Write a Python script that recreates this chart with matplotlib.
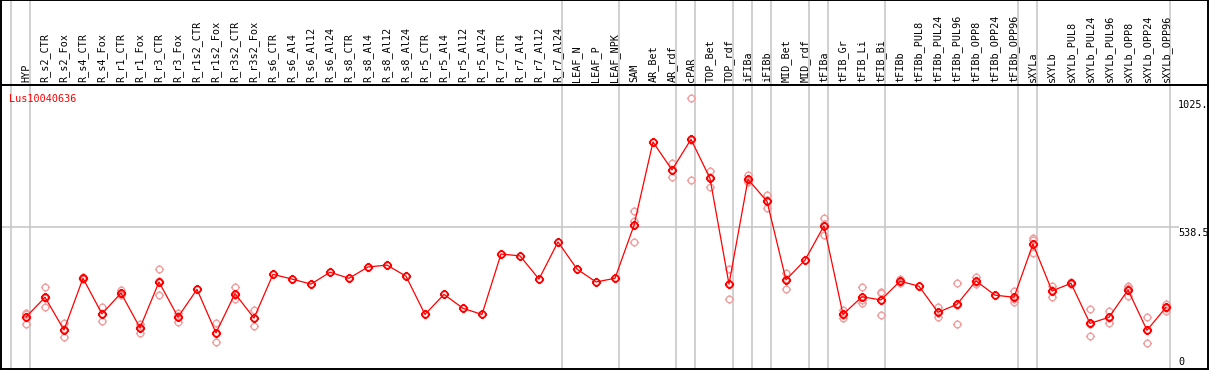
"""Expression profile of Lus10040636 across tissues/treatments."""

import matplotlib.pyplot as plt
import numpy as np
from matplotlib.path import Path

GENE = "Lus10040636"

SAMPLES = [
    "HYP", "R_s2_CTR", "R_s2_Fox", "R_s4_CTR", "R_s4_Fox", "R_r1_CTR",
    "R_r1_Fox", "R_r3_CTR", "R_r3_Fox", "R_r1s2_CTR", "R_r1s2_Fox",
    "R_r3s2_CTR", "R_r3s2_Fox", "R_s6_CTR", "R_s6_Al4", "R_s6_Al12",
    "R_s6_Al24", "R_s8_CTR", "R_s8_Al4", "R_s8_Al12", "R_s8_Al24",
    "R_r5_CTR", "R_r5_Al4", "R_r5_Al12", "R_r5_Al24", "R_r7_CTR",
    "R_r7_Al4", "R_r7_Al12", "R_r7_Al24", "LEAF_N", "LEAF_P", "LEAF_NPK",
    "SAM", "AR_Bet", "AR_rdf", "cPAR", "TOP_Bet", "TOP_rdf", "iFIBa",
    "iFIBb", "MID_Bet", "MID_rdf", "tFIBa", "tFIB_Gr", "tFIB_Li", "tFIB_Bi",
    "tFIBb", "tFIBb_PUL8", "tFIBb_PUL24", "tFIBb_PUL96", "tFIBb_OPP8",
    "tFIBb_OPP24", "tFIBb_OPP96", "sXYLa", "sXYLb", "sXYLb_PUL8",
    "sXYLb_PUL24", "sXYLb_PUL96", "sXYLb_OPP8", "sXYLb_OPP24", "sXYLb_OPP96",
]

MEANS = [
    197, 272, 148, 344, 209, 288, 156, 330, 197, 302, 137, 286, 193,
    359, 341, 322, 367, 344, 387, 394, 352, 207, 283, 230, 207,
    436, 429, 341, 482, 379, 330, 344, 545, 861, 755, 871, 723, 322,
    719, 636, 338, 413, 543, 207, 274, 262, 333, 314, 215, 245, 334,
    280, 272, 474, 296, 325, 173, 196, 300, 147, 234,
]

# individual replicates (empty where they sit under the mean marker)
REPLICATES = [
    [213, 170, 208], [310, 236, 270], [173, 120, 150], [348, 341, 343],
    [235, 183, 208], [300, 281, 284], [170, 138, 159], [378, 280, 332],
    [211, 179, 201], [], [173, 101, 135], [310, 267, 280], [223, 164, 193],
    [], [], [], [], [], [], [], [], [], [], [], [], [], [], [], [], [], [], [],
    [599, 562, 480], [], [780, 729, 755], [1026, 717, 870],
    [751, 691, 727], [378, 264, 324], [736, 710, 712], [660, 609, 639],
    [365, 304, 343], [], [573, 508, 549], [224, 205, 193], [310, 251, 261],
    [292, 204, 290], [340, 325, 335], [], [234, 198, 213], [325, 170, 242],
    [348, 322, 331], [], [296, 253, 267], [496, 439, 488], [315, 274, 298],
    [331, 322, 322], [226, 124, 170], [220, 173, 195], [316, 277, 306],
    [196, 98, 147], [248, 221, 233],
]

# sample indices where a gray group separator is drawn (before that sample)
GROUP_BREAKS = [0, 1, 29, 32, 35, 36, 38, 39, 40, 42, 43, 46, 53, 54, 61]

Y_MAX = 1077
Y_TICKS = [(1025, "1025."), (538.5, "538.5"), (0, "0")]

RED = "#ff0000"
PINK = "#f0a0a0"
GRID = "#c8c8c8"
FONT = "DejaVu Sans Mono"


def tick_circle():
    circle = Path.unit_circle()
    r0, r1 = 1.0, 1.4
    verts = [(0, r0), (0, r1), (0, -r0), (0, -r1),
             (r0, 0), (r1, 0), (-r0, 0), (-r1, 0)]
    codes = [Path.MOVETO, Path.LINETO] * 4
    return Path.make_compound_path(circle, Path(verts, codes))


def main():
    W, H = 1209, 370
    fig = plt.figure(figsize=(W / 100, H / 100), dpi=100)

    # pixel layout: points at x = 26 + 19*i, header 0..85, plot 85..369
    x_left = (1 - 26) / 19
    x_right = (1208 - 26) / 19
    ax_h = fig.add_axes([1 / W, (H - 85) / H, 1207 / W, 85 / H])
    ax = fig.add_axes([1 / W, (H - 369) / H, 1207 / W, 284 / H])

    x = np.arange(len(SAMPLES))
    marker = tick_circle()

    for a in (ax, ax_h):
        a.set_xlim(x_left, x_right)
        a.set_xticks([])
        a.set_yticks([])
        for s in a.spines.values():
            s.set_color("black")
            s.set_linewidth(1.4)
        for k in GROUP_BREAKS:
            a.axvline(k - 15 / 19, color=GRID, lw=1.2, zorder=0)

    ax_h.set_ylim(0, 85)
    for i, name in enumerate(SAMPLES):
        ax_h.text(i, 2.5, name, rotation=90, ha="center", va="bottom",
                  fontsize=7.3, family=FONT)

    ax.set_ylim(0, Y_MAX)
    label_x = (1178 - 26) / 19
    ax.plot([x_left, label_x], [538.5, 538.5], color=GRID, lw=1.2, zorder=0)
    for val, txt in Y_TICKS:
        if val == 0:
            ax.text(label_x, 15, txt, ha="left", va="baseline",
                    fontsize=7.3, family=FONT)
        else:
            ax.text(label_x, val - 4, txt, ha="left", va="top",
                    fontsize=7.3, family=FONT)

    for i, reps in enumerate(REPLICATES):
        if reps:
            ax.plot([i] * len(reps), reps, linestyle="none", marker=marker,
                    markersize=6.6, markerfacecolor="none",
                    markeredgecolor=PINK, markeredgewidth=1.0, zorder=2)

    ax.plot(x, MEANS, color=RED, lw=0.9, zorder=3)
    ax.plot(x, MEANS, linestyle="none", marker=marker, markersize=6.6,
            markerfacecolor="none", markeredgecolor=RED,
            markeredgewidth=1.3, zorder=4)

    ax.text((9 - 26) / 19, Y_MAX - (94 - 85) * Y_MAX / 284, GENE,
            color=RED, ha="left", va="top", fontsize=7.3, family=FONT)

    fig.savefig("out.png", dpi=100)


if __name__ == "__main__":
    main()
